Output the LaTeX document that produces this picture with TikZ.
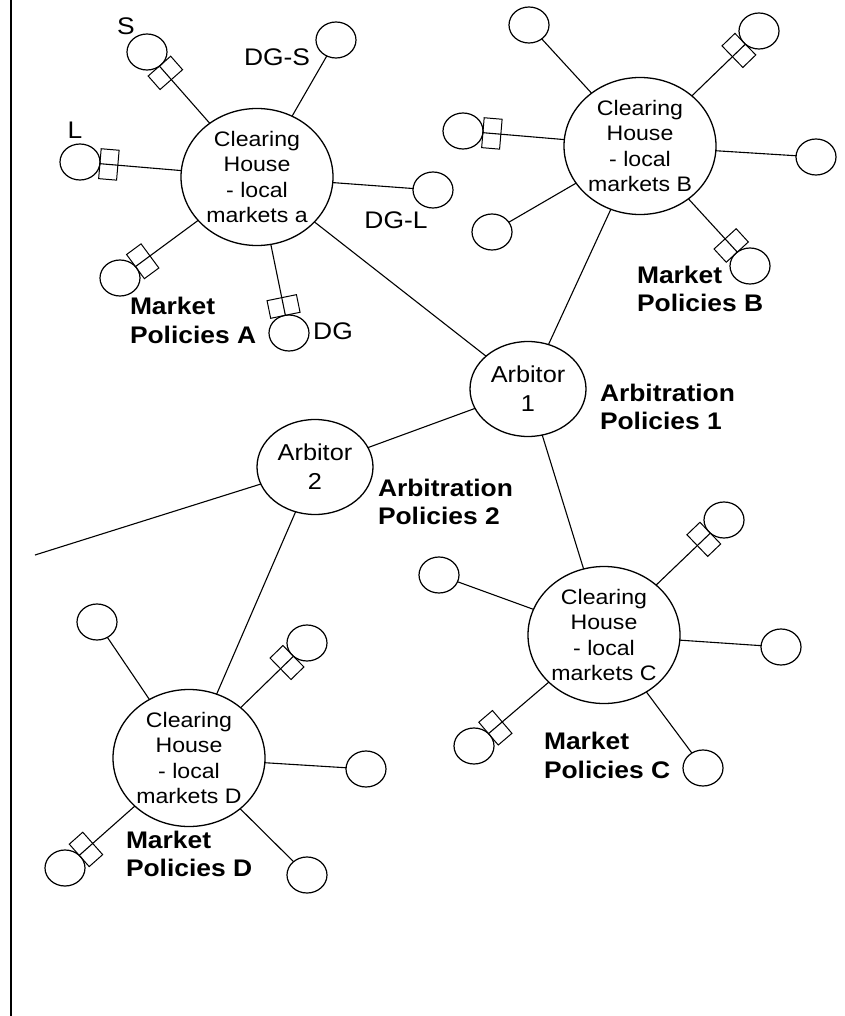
\documentclass[tikz,border=0pt]{standalone}
\usepackage{fontspec}
\setmainfont[FakeStretch=1.1]{Liberation Sans}
\usetikzlibrary{shapes.geometric,calc}
\begin{document}
\begin{tikzpicture}[x=1pt,y=-1pt,
  every node/.style={inner sep=0pt, outer sep=0pt},
  ch/.style={draw, ellipse, minimum width=152pt, minimum height=137pt, line width=1.3pt},
  sat/.style={draw, ellipse, minimum width=40pt, minimum height=36pt, line width=1.2pt},
  arb/.style={draw, ellipse, minimum width=116pt, minimum height=95pt, line width=1.3pt,
              align=center, font=\fontsize{23}{29}\selectfont},
  sw/.style={draw, rectangle, minimum width=18pt, minimum height=30pt, sloped,
             allow upside down, pos=0, anchor=west, line width=1pt},
  conn/.style={line width=1.1pt},
  chtext/.style={font=\fontsize{21}{25.5}\selectfont, align=center},
  lbl/.style={font=\fontsize{24}{28}\selectfont},
  pol/.style={font=\bfseries\fontsize{24}{28.5}\selectfont, align=left, anchor=west}
]
\useasboundingbox (0,0) rectangle (844,1016);
\draw[line width=2pt] (11,0) -- (11,1016);

% ---------- Cluster A ----------
\node[ch, label={[chtext]center:{Clearing\\House\\- local\\markets a}}] (chA) at (257,177) {};
\node[sat] (sA1) at (147,52) {};
\node[sat] (sA2) at (336,40) {};
\node[sat] (sA3) at (80,162) {};
\node[sat] (sA4) at (433,190) {};
\node[sat] (sA5) at (120,278) {};
\node[sat] (sA6) at (289,333) {};
\draw[conn] (sA1) -- (chA) node[sw]{};
\draw[conn] (sA2) -- (chA);
\draw[conn] (sA3) -- (chA) node[sw]{};
\draw[conn] (sA4) -- (chA);
\draw[conn] (sA5) -- (chA) node[sw]{};
\draw[conn] (sA6) -- (chA) node[sw]{};
\node[lbl] (lS) at (126,26) {S};
\node[lbl] (lDGS) at (277,57) {DG-S};
\node[lbl] (lL) at (75,130) {L};
\node[lbl] (lDGL) at (396,220) {DG-L};
\node[lbl] (lDG) at (333,331) {DG};
\node[pol] (pA) at (130,320.5) {Market\\Policies A};

% ---------- Cluster B ----------
\node[ch, label={[chtext]center:{Clearing\\House\\- local\\markets B}}] (chB) at (640,146) {};
\node[sat] (sB1) at (529,25) {};
\node[sat] (sB2) at (759,31) {};
\node[sat] (sB3) at (463,131) {};
\node[sat] (sB4) at (816,157) {};
\node[sat] (sB5) at (492,232) {};
\node[sat] (sB6) at (750,266) {};
\draw[conn] (sB1) -- (chB);
\draw[conn] (sB2) -- (chB) node[sw]{};
\draw[conn] (sB3) -- (chB) node[sw]{};
\draw[conn] (sB4) -- (chB);
\draw[conn] (sB5) -- (chB);
\draw[conn] (sB6) -- (chB) node[sw]{};
\node[pol] (pB) at (637,289) {Market\\Policies B};

% ---------- Arbitors ----------
\node[arb] (arb1) at (528,389) {Arbitor\\1};
\node[arb] (arb2) at (315,467) {Arbitor\\2};
\node[pol] (ap1) at (600,407) {Arbitration\\Policies 1};
\node[pol] (ap2) at (378,502) {Arbitration\\Policies 2};
\coordinate (free) at (35,555);

% ---------- Cluster C ----------
\node[ch, label={[chtext]center:{Clearing\\House\\- local\\markets C}}] (chC) at (604,635) {};
\node[sat] (sC1) at (439,575) {};
\node[sat] (sC2) at (724,520) {};
\node[sat] (sC3) at (781,647) {};
\node[sat] (sC4) at (474,746) {};
\node[sat] (sC5) at (703,768) {};
\draw[conn] (sC1) -- (chC);
\draw[conn] (sC2) -- (chC) node[sw]{};
\draw[conn] (sC3) -- (chC);
\draw[conn] (sC4) -- (chC) node[sw]{};
\draw[conn] (sC5) -- (chC);
\node[pol] (pC) at (544,755.5) {Market\\Policies C};

% ---------- Cluster D ----------
\node[ch, label={[chtext]center:{Clearing\\House\\- local\\markets D}}] (chD) at (189,758) {};
\node[sat] (sD1) at (97,622) {};
\node[sat] (sD2) at (307,643) {};
\node[sat] (sD3) at (366,769) {};
\node[sat] (sD4) at (65,868) {};
\node[sat] (sD5) at (307,875) {};
\draw[conn] (sD1) -- (chD);
\draw[conn] (sD2) -- (chD) node[sw]{};
\draw[conn] (sD3) -- (chD);
\draw[conn] (sD4) -- (chD) node[sw]{};
\draw[conn] (sD5) -- (chD);
\node[pol] (pD) at (126,854) {Market\\Policies D};

% ---------- Backbone ----------
\draw[conn] (chA) -- (arb1);
\draw[conn] (chB) -- (arb1);
\draw[conn] (arb1) -- (arb2);
\draw[conn] (arb1) -- (chC);
\draw[conn] (arb2) -- (chD);
\draw[conn] (arb2) -- (free);
\end{tikzpicture}
\end{document}
